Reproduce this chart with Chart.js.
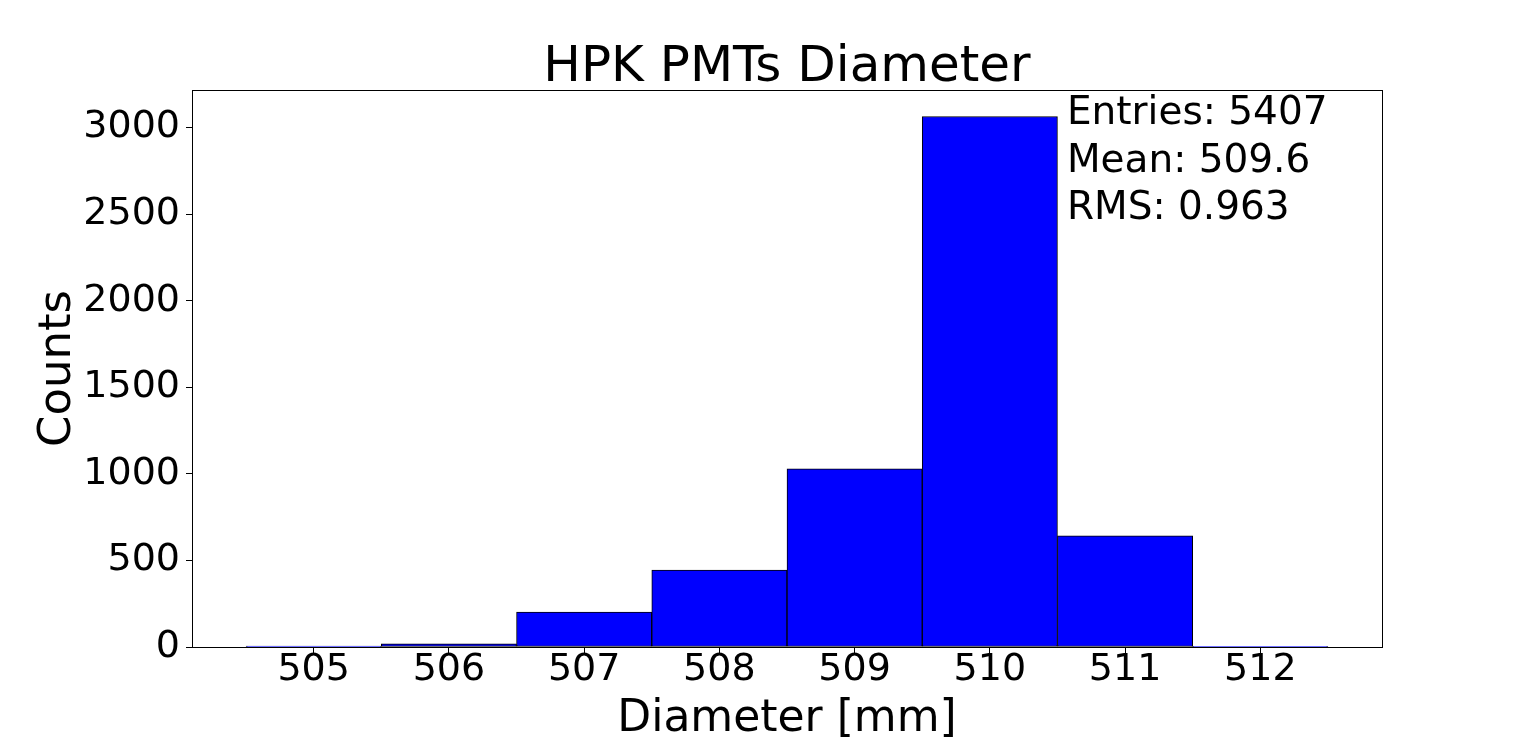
<!DOCTYPE html>
<html>
<head>
<meta charset="utf-8">
<title>HPK PMTs Diameter</title>
<script src="https://cdn.jsdelivr.net/npm/chart.js@4.4.1/dist/chart.umd.min.js"></script>
<style>
    html, body { margin: 0; padding: 0; background: #fff; }
    #wrap { width: 1536px; height: 749px; }
</style>
</head>
<body>
<div id="wrap"><canvas id="hist-chart" width="1536" height="749"></canvas></div>
<script>
// Histogram bins (bin centres, 1 mm wide) and counts
const binCenters = [505, 506, 507, 508, 509, 510, 511, 512];
const counts = [5, 19, 202, 445, 1029, 3064, 642, 1];

// Axis ticks
const xTicks = [505, 506, 507, 508, 509, 510, 511, 512];
const yTicks = [0, 500, 1000, 1500, 2000, 2500, 3000];

// Stats box text
const statsLines = ['Entries: 5407', 'Mean: 509.6', 'RMS: 0.963'];
const chartTitle = 'HPK PMTs Diameter';

// matplotlib style 5% margins around the bins
const binWidth = 1;
const xLo = binCenters[0] - binWidth / 2;
const xHi = binCenters[binCenters.length - 1] + binWidth / 2;
const xPad = (xHi - xLo) * 0.05;
const yMax = Math.max(...counts) * 1.05;

const FONT = "'DejaVu Sans', 'Liberation Sans', sans-serif";
Chart.defaults.font.family = FONT;
Chart.defaults.color = '#000';

// Frame, title and stats text
const decorPlugin = {
    id: 'decor',
    afterDraw(chart) {
        const { ctx, chartArea } = chart;
        const { left, right, top, bottom } = chartArea;
        ctx.save();
        ctx.strokeStyle = '#000';
        ctx.lineWidth = 1;
        ctx.strokeRect(Math.round(left) + 0.5, Math.round(top) + 0.5, Math.round(right - left), Math.round(bottom - top));

        ctx.fillStyle = '#000';
        ctx.textBaseline = 'alphabetic';
        ctx.textAlign = 'center';
        ctx.font = '50px ' + FONT;
        ctx.fillText(chartTitle, (left + right) / 2, top - 9);

        ctx.textAlign = 'left';
        ctx.font = '39px ' + FONT;
        const sx = left + (right - left) * 0.7352;
        statsLines.forEach((line, i) => {
            ctx.fillText(line, sx, top + 34 + i * 47.5);
        });
        ctx.restore();
    }
};

const ctx = document.getElementById('hist-chart');

new Chart(ctx, {
    type: 'bar',
    data: {
        datasets: [{
            label: 'Counts',
            data: binCenters.map((x, i) => ({ x: x, y: counts[i] })),
            backgroundColor: '#0000ff',
            borderColor: '#000',
            borderWidth: 1,
            borderSkipped: false,
            barPercentage: 1,
            categoryPercentage: 1
        }]
    },
    options: {
        responsive: false,
        devicePixelRatio: 1,
        animation: false,
        layout: { padding: { left: 0, right: 154, top: 90, bottom: 0 } },
        plugins: {
            legend: { display: false },
            title: { display: false },
            tooltip: { enabled: false }
        },
        scales: {
            x: {
                type: 'linear',
                min: xLo - xPad,
                max: xHi + xPad,
                offset: false,
                afterBuildTicks: axis => { axis.ticks = xTicks.map(v => ({ value: v })); },
                afterFit: axis => { axis.height = 102; },
                ticks: {
                    font: { size: 38, lineHeight: 1 },
                    padding: -2,
                    maxRotation: 0,
                    autoSkip: false,
                    callback: v => String(v)
                },
                grid: { offset: false, drawOnChartArea: false, drawTicks: true, tickLength: 6, color: '#000' },
                border: { display: true, color: '#000', width: 1 },
                title: {
                    display: true,
                    text: 'Diameter [mm]',
                    font: { size: 44 },
                    padding: { top: 0, bottom: 3 }
                }
            },
            y: {
                min: 0,
                max: yMax,
                afterBuildTicks: axis => { axis.ticks = yTicks.map(v => ({ value: v })); },
                afterFit: axis => { axis.width = 192; },
                ticks: {
                    font: { size: 38 },
                    padding: 6,
                    autoSkip: false,
                    callback: v => String(v)
                },
                grid: { drawOnChartArea: false, drawTicks: true, tickLength: 6, color: '#000' },
                border: { display: true, color: '#000', width: 1 },
                title: {
                    display: true,
                    text: 'Counts',
                    font: { size: 45 },
                    padding: { top: 31, bottom: 0 }
                }
            }
        }
    },
    plugins: [decorPlugin]
});
</script>
</body>
</html>
